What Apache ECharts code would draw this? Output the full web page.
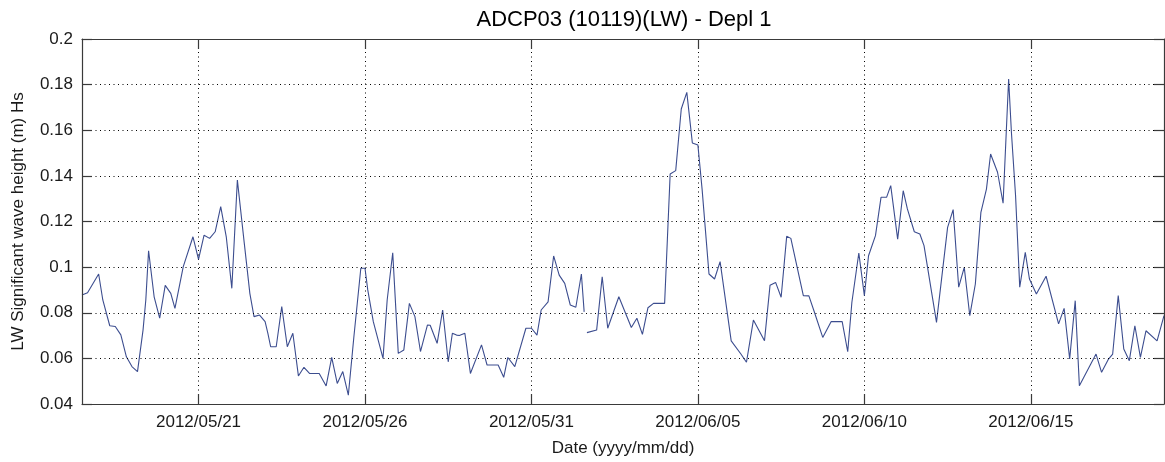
<!DOCTYPE html>
<html>
<head>
<meta charset="utf-8">
<script src="https://cdn.jsdelivr.net/npm/echarts@6/dist/echarts.min.js"></script>
<style>
html,body{margin:0;padding:0;background:#fff;}
#chart{width:1165px;height:462px;}
</style>
</head>
<body>
<div id="chart"></div>
<script>
// ---- data ----
const titleText = 'ADCP03 (10119)(LW) - Depl 1';
const xAxisName = 'Date (yyyy/mm/dd)';
const yAxisName = 'LW Significant wave height (m) Hs';
const xMin = '2012-05-17 12:00';
const xMax = '2012-06-19 00:00';
const xTickDates = ['2012-05-21', '2012-05-26', '2012-05-31', '2012-06-05', '2012-06-10', '2012-06-15'];
const yMin = 0.04, yMax = 0.2, yStep = 0.02;

const times = [
'2012-05-17 12:00','2012-05-17 16:00','2012-05-18 00:00','2012-05-18 03:00','2012-05-18 08:00','2012-05-18 12:00',
'2012-05-18 16:00','2012-05-18 20:00','2012-05-19 00:00','2012-05-19 04:00','2012-05-19 08:00','2012-05-19 10:00',
'2012-05-19 12:00','2012-05-19 16:00','2012-05-19 20:00','2012-05-20 00:00','2012-05-20 04:00','2012-05-20 07:00',
'2012-05-20 13:00','2012-05-20 20:00','2012-05-21 00:00','2012-05-21 04:00','2012-05-21 08:00','2012-05-21 12:00',
'2012-05-21 16:00','2012-05-21 20:00','2012-05-22 00:00','2012-05-22 04:00','2012-05-22 09:00','2012-05-22 13:00',
'2012-05-22 16:00','2012-05-22 20:00','2012-05-23 00:00','2012-05-23 02:00','2012-05-23 04:00','2012-05-23 08:00',
'2012-05-23 12:00','2012-05-23 16:00','2012-05-23 20:00','2012-05-24 00:00','2012-05-24 04:00','2012-05-24 08:00',
'2012-05-24 15:00','2012-05-24 20:00','2012-05-25 00:00','2012-05-25 04:00','2012-05-25 08:00','2012-05-25 12:00',
'2012-05-25 16:00','2012-05-25 21:00','2012-05-26 00:00','2012-05-26 02:00','2012-05-26 06:00','2012-05-26 13:00',
'2012-05-26 16:00','2012-05-26 20:00','2012-05-27 00:00','2012-05-27 04:00','2012-05-27 08:00','2012-05-27 12:00',
'2012-05-27 16:00','2012-05-27 21:00','2012-05-27 23:00','2012-05-28 04:00','2012-05-28 08:00','2012-05-28 12:00',
'2012-05-28 15:00','2012-05-28 18:00','2012-05-28 20:00','2012-05-29 00:00','2012-05-29 04:00','2012-05-29 12:00',
'2012-05-29 16:00','2012-05-30 00:00','2012-05-30 04:00','2012-05-30 07:00','2012-05-30 12:00','2012-05-30 20:00',
'2012-05-31 00:00','2012-05-31 04:00','2012-05-31 07:00','2012-05-31 12:00','2012-05-31 16:00','2012-05-31 20:00',
'2012-06-01 00:00','2012-06-01 04:00','2012-06-01 08:00','2012-06-01 12:00','2012-06-01 14:00','2012-06-01 15:00',
'2012-06-01 16:00','2012-06-01 23:00','2012-06-02 03:00','2012-06-02 07:00','2012-06-02 15:00','2012-06-03 00:00',
'2012-06-03 04:00','2012-06-03 08:00','2012-06-03 12:00','2012-06-03 16:00','2012-06-04 00:00','2012-06-04 02:00',
'2012-06-04 04:00','2012-06-04 08:00','2012-06-04 12:00','2012-06-04 16:00','2012-06-04 20:00','2012-06-05 00:00',
'2012-06-05 03:00','2012-06-05 08:00','2012-06-05 12:00','2012-06-05 16:00','2012-06-06 00:00','2012-06-06 07:00',
'2012-06-06 11:00','2012-06-06 16:00','2012-06-07 00:00','2012-06-07 04:00','2012-06-07 08:00','2012-06-07 12:00',
'2012-06-07 16:00','2012-06-07 19:00','2012-06-08 04:00','2012-06-08 08:00','2012-06-08 12:00','2012-06-08 18:00',
'2012-06-09 00:00','2012-06-09 08:00','2012-06-09 12:00','2012-06-09 15:00','2012-06-09 20:00','2012-06-10 00:00',
'2012-06-10 03:00','2012-06-10 08:00','2012-06-10 12:00','2012-06-10 16:00','2012-06-10 19:00','2012-06-11 00:00',
'2012-06-11 04:00','2012-06-11 07:00','2012-06-11 12:00','2012-06-11 16:00','2012-06-11 19:00','2012-06-12 04:00',
'2012-06-12 12:00','2012-06-12 16:00','2012-06-12 20:00','2012-06-13 00:00','2012-06-13 04:00','2012-06-13 08:00',
'2012-06-13 12:00','2012-06-13 16:00','2012-06-13 19:00','2012-06-14 00:00','2012-06-14 04:00','2012-06-14 08:00',
'2012-06-14 10:00','2012-06-14 13:00','2012-06-14 16:00','2012-06-14 20:00','2012-06-14 23:00','2012-06-15 04:00',
'2012-06-15 11:00','2012-06-15 20:00','2012-06-16 00:00','2012-06-16 04:00','2012-06-16 08:00','2012-06-16 11:00',
'2012-06-16 23:00','2012-06-17 03:00','2012-06-17 08:00','2012-06-17 11:00','2012-06-17 15:00','2012-06-17 19:00',
'2012-06-17 23:00','2012-06-18 03:00','2012-06-18 07:00','2012-06-18 11:00','2012-06-18 19:00','2012-06-19 00:00'
];

const hs = [
0.0878,0.0888,0.0970,0.0856,0.0743,0.0740,
0.0703,0.0607,0.0564,0.0542,0.0724,0.0856,
0.1072,0.0870,0.0776,0.0920,0.0885,0.0819,
0.1002,0.1133,0.1034,0.1140,0.1126,0.1155,
0.1265,0.1133,0.0907,0.1382,0.1104,0.0885,
0.0783,0.0790,0.0761,0.0710,0.0651,0.0651,
0.0827,0.0651,0.0710,0.0523,0.0561,0.0534,
0.0534,0.0479,0.0604,0.0490,0.0542,0.0439,
0.0695,0.0995,0.0995,0.0900,0.0761,0.0600,
0.0856,0.1063,0.0622,0.0637,0.0841,0.0783,
0.0630,0.0746,0.0745,0.0666,0.0812,0.0585,
0.0710,0.0702,0.0700,0.0710,0.0534,0.0659,
0.0571,0.0571,0.0517,0.0604,0.0564,0.0732,
0.0732,0.0702,0.0812,0.0848,0.1049,0.0965,
0.0929,0.0834,0.0824,0.0970,0.0804,null,
0.0713,0.0724,0.0958,0.0732,0.0870,0.0735,
0.0776,0.0705,0.0822,0.0841,0.0841,0.1123,
0.1408,0.1423,0.1693,0.1766,0.1544,0.1535,
0.1343,0.0970,0.0948,0.1024,0.0677,0.0619,
0.0583,0.0768,0.0677,0.0921,0.0933,0.0868,
0.1135,0.1126,0.0875,0.0874,0.0802,0.0692,
0.0761,0.0761,0.0629,0.0846,0.1062,0.0875,
0.1050,0.1138,0.1306,0.1306,0.1357,0.1123,
0.1335,0.1255,0.1155,0.1145,0.1094,0.0758,
0.1174,0.1252,0.0912,0.0999,0.0787,0.0926,
0.1240,0.1342,0.1496,0.1416,0.1280,0.1825,
0.1591,0.1313,0.0912,0.1065,0.0948,0.0882,
0.0960,0.0751,0.0819,0.0597,0.0853,0.0480,
0.0619,0.0539,0.0597,0.0619,0.0875,0.0641,
0.0590,0.0743,0.0604,0.0721,0.0677,0.0787
];

// ---- chart ----
const FONT = '"Liberation Sans", Arial, Helvetica, sans-serif';
const TXT = '#1a1a1a';
const FRAME = '#3a3a3a';
const toTs = s => +echarts.time.parse(s);
const tickTs = xTickDates.map(toTs);
const seriesData = times.map((t, i) => [toTs(t), hs[i]]);
const pad = n => (n < 10 ? '0' : '') + n;
const fmtDate = v => { const d = new Date(v); return d.getFullYear() + '/' + pad(d.getMonth() + 1) + '/' + pad(d.getDate()); };
const gridDot = { color: '#000', width: 1, type: [1, 3.5] };

const chart = echarts.init(document.getElementById('chart'), null, { renderer: 'canvas' });
chart.setOption({
  animation: false,
  backgroundColor: '#fff',
  title: {
    text: titleText,
    left: 619,
    top: 4,
    textAlign: 'center',
    textStyle: { fontFamily: FONT, fontSize: 22, fontWeight: 'normal', color: '#000' }
  },
  grid: { left: 82, right: 1, top: 39, bottom: 58, containLabel: false },
  xAxis: [
    {
      type: 'value', position: 'bottom', min: toTs(xMin), max: toTs(xMax), scale: true,
      name: xAxisName, nameLocation: 'middle', nameGap: 36,
      nameTextStyle: { fontFamily: FONT, fontSize: 17, color: TXT },
      axisLine: { show: true, onZero: false, lineStyle: { color: FRAME, width: 1.2 } },
      axisTick: { show: true, inside: true, length: 10, customValues: tickTs, lineStyle: { color: FRAME, width: 1.2 } },
      axisLabel: { show: true, customValues: tickTs, formatter: fmtDate, margin: 10, fontFamily: FONT, fontSize: 17, color: TXT },
      splitLine: { show: false },
      z: 5
    },
    {
      type: 'value', position: 'top', min: toTs(xMin), max: toTs(xMax), scale: true,
      axisLine: { show: true, onZero: false, lineStyle: { color: FRAME, width: 1.2 } },
      axisTick: { show: true, inside: true, length: 10, customValues: tickTs, lineStyle: { color: FRAME, width: 1.2 } },
      axisLabel: { show: false },
      splitLine: { show: false },
      z: 5
    }
  ],
  yAxis: [
    {
      type: 'value', position: 'left', min: yMin, max: yMax, interval: yStep,
      name: yAxisName, nameLocation: 'middle', nameGap: 55, nameRotate: 90,
      nameTextStyle: { fontFamily: FONT, fontSize: 17, color: TXT },
      axisLine: { show: true, onZero: false, lineStyle: { color: FRAME, width: 1.2 } },
      axisTick: { show: true, inside: true, length: 10, lineStyle: { color: FRAME, width: 1.2 } },
      axisLabel: { margin: 9, fontFamily: FONT, fontSize: 17, color: TXT, formatter: v => String(+(+v).toFixed(2)) },
      splitLine: { show: true, lineStyle: gridDot },
      z: 5
    },
    {
      type: 'value', position: 'right', min: yMin, max: yMax, interval: yStep,
      axisLine: { show: true, onZero: false, lineStyle: { color: FRAME, width: 1.2 } },
      axisTick: { show: true, inside: true, length: 10, lineStyle: { color: FRAME, width: 1.2 } },
      axisLabel: { show: false },
      splitLine: { show: false },
      z: 5
    }
  ],
  series: [
    {
      type: 'line',
      xAxisIndex: 0, yAxisIndex: 0,
      data: seriesData,
      showSymbol: false,
      symbol: 'none',
      connectNulls: false,
      lineStyle: { color: '#3c4d8f', width: 1.1 },
      z: 3,
      markLine: {
        silent: true,
        symbol: ['none', 'none'],
        label: { show: false },
        lineStyle: gridDot,
        emphasis: { disabled: true },
        z: 1,
        data: tickTs.map(t => ({ xAxis: t }))
      }
    }
  ]
});
</script>
</body>
</html>
